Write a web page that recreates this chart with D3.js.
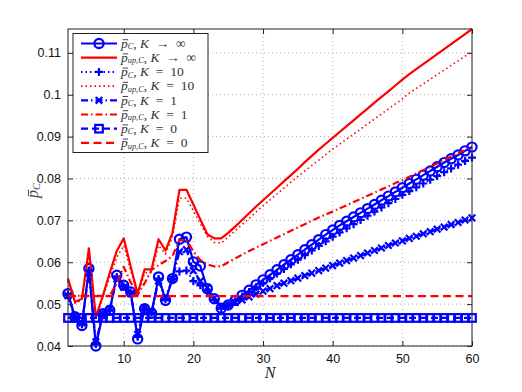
<!DOCTYPE html>
<html><head><meta charset="utf-8">
<script src="https://cdn.jsdelivr.net/npm/d3@7"></script>
<style>body{margin:0;background:#fff}</style>
</head><body><svg id="c" width="522" height="392"></svg>
<script>
const N = [2,3,4,5,6,7,8,9,10,11,12,13,14,15,16,17,18,19,20,21,22,23,24,25,26,27,28,29,30,31,32,33,34,35,36,37,38,39,40,41,42,43,44,45,46,47,48,49,50,51,52,53,54,55,56,57,58,59,60];

const pcInf = [.0525,.0470,.0449,.0585,.0400,.0477,.0485,.0569,.0545,.0529,.0417,.0489,.0478,.0565,.0509,.0561,.0655,.0660,.0601,.0591,.0537,.0513,.0490,
  .0498,.0509,.0521,.0533,.0546,.0558,.0570,.0582,.0594,.0606,.0618,.0630,.0642,.0654,.0666,.0677,.0688,.0698,.0708,.0718,.0728,.0738,.0748,.0758,.0768,.0778,.0788,.0798,.0808,.0818,.0828,.0838,.0847,.0856,.0866,.0875];
const pupInf = [.0561,.0505,.0513,.0633,.0469,.0520,.0575,.0627,.0657,.0590,.0525,.0583,.0583,.0655,.0628,.0670,.0773,.0773,.0738,.0702,.0667,.0657,.0657,
  .0670,.0685,.0701,.0717,.0733,.0748,.0763,.0778,.0793,.0808,.0823,.0839,.0854,.0869,.0883,.0897,.0911,.0925,.0939,.0953,.0967,.0981,.0995,.1008,.1022,.1036,.1049,.1061,.1073,.1085,.1097,.1109,.1121,.1133,.1145,.1157];
const pcK10 = [.0522,.0468,.0452,.0580,.0405,.0478,.0487,.0565,.0542,.0527,.0422,.0490,.0480,.0560,.0512,.0560,.0578,.0580,.0555,.0545,.0530,.0510,.0490,
  .0497,.0507,.0518,.0529,.0540,.0551,.0562,.0573,.0584,.0595,.0606,.0617,.0628,.0639,.0650,.0661,.0671,.0681,.0691,.0701,.0711,.0721,.0731,.0741,.0751,.0761,.0770,.0779,.0788,.0797,.0806,.0815,.0824,.0833,.0842,.0850];
const pupK10 = [.0555,.0502,.0510,.0620,.0467,.0515,.0565,.0612,.0640,.0580,.0520,.0575,.0575,.0640,.0620,.0660,.0753,.0753,.0723,.0692,.0662,.0647,.0646,
  .0660,.0675,.0690,.0705,.0720,.0735,.0749,.0763,.0777,.0791,.0805,.0818,.0831,.0844,.0857,.0870,.0882,.0894,.0906,.0918,.0930,.0942,.0954,.0966,.0978,.0990,.1004,.1015,.1026,.1037,.1048,.1059,.1070,.1081,.1092,.1103];
const pcK1 = [.0520,.0466,.0455,.0575,.0410,.0476,.0489,.0560,.0540,.0525,.0428,.0491,.0482,.0555,.0515,.0560,.0625,.0630,.0580,.0555,.0540,.0515,.0495,
  .0498,.0504,.0510,.0517,.0524,.0531,.0537,.0544,.0550,.0556,.0562,.0568,.0574,.0580,.0586,.0592,.0598,.0604,.0610,.0616,.0622,.0628,.0634,.0640,.0646,.0651,.0657,.0662,.0668,.0673,.0679,.0684,.0690,.0695,.0701,.0706];
const pupK1 = [.0520,.0520,.0520,.0520,.0520,.0520,.0520,.0550,.0589,.0552,.0522,.0550,.0582,.0593,.0603,.0615,.0653,.0653,.0626,.0605,.0595,.0590,.0590,
  .0600,.0609,.0618,.0627,.0635,.0643,.0651,.0659,.0667,.0675,.0683,.0691,.0699,.0707,.0714,.0721,.0729,.0736,.0744,.0751,.0759,.0766,.0774,.0781,.0789,.0796,.0804,.0812,.0820,.0828,.0836,.0844,.0852,.0860,.0868,.0876];
const pcK0 = N.map(() => 0.0467);
const pupK0 = N.map(() => 0.0519);

const xTicks = [10,20,30,40,50,60];
const yTicks = [0.04,0.05,0.06,0.07,0.08,0.09,0.10,0.11];

const svg = d3.select('#c');
const L = 68, R = 472, T = 29, B = 346;
const x = d3.scaleLinear().domain([2,60]).range([L,R]);
const y = d3.scaleLinear().domain([0.04,0.1157]).range([B,T]);

// grid
const grid = svg.append('g').attr('stroke','#9a9a9a').attr('stroke-width',0.8).attr('stroke-dasharray','1,3');
xTicks.forEach(t => grid.append('line').attr('x1',x(t)).attr('x2',x(t)).attr('y1',T).attr('y2',B));
yTicks.forEach(t => grid.append('line').attr('x1',L).attr('x2',R).attr('y1',y(t)).attr('y2',y(t)));

const fmt = v => String(+v.toFixed(2));
function styleAxis(g, labels){
  g.select('.domain').remove();
  g.selectAll('line').attr('stroke','#222');
  g.selectAll('text').attr('font-family','Liberation Sans, Arial, sans-serif').attr('font-size',12.5).attr('fill','#111');
  if(!labels) g.selectAll('text').remove();
}
svg.append('g').attr('transform',`translate(0,${B})`).call(d3.axisBottom(x).tickValues(xTicks).tickSize(-5).tickPadding(8).tickFormat(fmt)).call(g=>styleAxis(g,true));
svg.append('g').attr('transform',`translate(0,${T})`).call(d3.axisTop(x).tickValues(xTicks).tickSize(-5)).call(g=>styleAxis(g,false));
svg.append('g').attr('transform',`translate(${L},0)`).call(d3.axisLeft(y).tickValues(yTicks).tickSize(-5).tickPadding(7).tickFormat(fmt)).call(g=>styleAxis(g,true));
svg.append('g').attr('transform',`translate(${R},0)`).call(d3.axisRight(y).tickValues(yTicks).tickSize(-5)).call(g=>styleAxis(g,false));

const BLUE='#0000ff', RED='#ff0000';
const series = [
  {v:pcInf, c:BLUE, dash:null, w:2.2, m:'o', sub:'C', k:['K','\u2002→\u2002∞']},
  {v:pupInf, c:RED, dash:null, w:2.2, m:null, sub:'up,C', k:['K','\u2002→\u2002∞']},
  {v:pcK10, c:BLUE, dash:'1.5,3', w:2, m:'+', sub:'C', k:['K','\u2002=\u200210']},
  {v:pupK10, c:RED, dash:'1.5,3', w:1.6, m:null, sub:'up,C', k:['K','\u2002=\u200210']},
  {v:pcK1, c:BLUE, dash:'7,3,1.5,3', w:2.2, m:'x', sub:'C', k:['K','\u2002=\u20021']},
  {v:pupK1, c:RED, dash:'7,3,1.5,3', w:2.2, m:null, sub:'up,C', k:['K','\u2002=\u20021']},
  {v:pcK0, c:BLUE, dash:'7,4', w:2.2, m:'s', sub:'C', k:['K','\u2002=\u20020']},
  {v:pupK0, c:RED, dash:'8,4.5', w:2.2, m:null, sub:'up,C', k:['K','\u2002=\u20020']}
];

function marker(g, type, cx, cy, c){
  if(type==='o') g.append('circle').attr('cx',cx).attr('cy',cy).attr('r',4.6).attr('fill','none').attr('stroke',c).attr('stroke-width',2.2);
  else if(type==='+') g.append('path').attr('d',`M${cx-4},${cy}H${cx+4}M${cx},${cy-4}V${cy+4}`).attr('stroke',c).attr('stroke-width',2.2).attr('fill','none');
  else if(type==='x') g.append('path').attr('d',`M${cx-3.3},${cy-3.3}L${cx+3.3},${cy+3.3}M${cx-3.3},${cy+3.3}L${cx+3.3},${cy-3.3}`).attr('stroke',c).attr('stroke-width',2.2).attr('fill','none');
  else if(type==='s') g.append('rect').attr('x',cx-3.8).attr('y',cy-3.8).attr('width',7.6).attr('height',7.6).attr('fill','none').attr('stroke',c).attr('stroke-width',2.2);
}

const line = d3.line().x((d,i)=>x(N[i])).y(d=>y(d));
series.forEach(s => {
  const g = svg.append('g');
  g.append('path').attr('d',line(s.v)).attr('fill','none').attr('stroke',s.c).attr('stroke-width',s.w)
    .attr('stroke-dasharray',s.dash).attr('stroke-linejoin','round');
  if(s.m) s.v.forEach((v,i)=>marker(g,s.m,x(N[i]),y(v),s.c));
});

// axes box
svg.append('rect').attr('x',L).attr('y',T).attr('width',R-L).attr('height',B-T).attr('fill','none').attr('stroke','#222').attr('stroke-width',1);

// legend
const SERIF = 'Liberation Serif, Times New Roman, serif';
const lg = svg.append('g');
lg.append('rect').attr('x',73).attr('y',33.5).attr('width',135).attr('height',119).attr('fill','#fff').attr('stroke','#222').attr('stroke-width',1);

function pbar(g, tx, ty, size, sub, rest, color){
  const t = g.append('text').attr('x',tx).attr('y',ty).attr('font-family',SERIF).attr('font-size',size).attr('fill',color);
  const p = t.append('tspan').attr('font-style','italic').text('p');
  t.append('tspan').attr('font-style','italic').attr('font-size',size*0.62).attr('dy',size*0.1).text(sub);
  if(rest){
    t.append('tspan').attr('dy',-size*0.1).text(', ');
    t.append('tspan').attr('font-style','italic').text(rest[0]);
    t.append('tspan').text(rest[1]);
  }
  const w = p.node().getComputedTextLength();
  g.append('line').attr('x1',tx+w*0.25).attr('x2',tx+w*1.05).attr('y1',ty-size*0.6).attr('y2',ty-size*0.6)
    .attr('stroke',color).attr('stroke-width',Math.max(0.9,size*0.06));
  return t;
}
series.forEach((s,i) => {
  const yy = 43.5 + i*14.2;
  const g = lg.append('g');
  g.append('line').attr('x1',81).attr('x2',117).attr('y1',yy).attr('y2',yy).attr('stroke',s.c).attr('stroke-width',s.w).attr('stroke-dasharray',s.dash);
  if(s.m) marker(g,s.m,99,yy,s.c);
  pbar(g, 121, yy+4.3, 13.5, s.sub, s.k, '#333');
});

// axis labels
svg.append('text').attr('x',(L+R)/2).attr('y',378).attr('text-anchor','middle').attr('font-family',SERIF).attr('font-size',16).attr('font-style','italic').attr('fill','#222').text('N');
const yg = svg.append('g').attr('transform','translate(38,198) rotate(-90)');
pbar(yg, 0, 0, 16, 'C', null, '#444');
</script></body></html>
